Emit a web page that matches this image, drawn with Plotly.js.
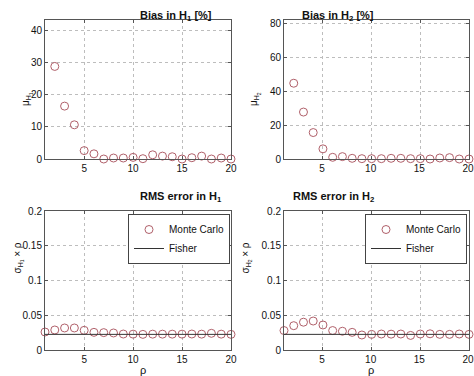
<!DOCTYPE html>
<html><head><meta charset="utf-8">
<script src="https://cdn.plot.ly/plotly-3.0.1.min.js"></script>
<style>html,body{margin:0;padding:0;background:#fff}#p{width:474px;height:376px}</style>
</head><body><div id="p"></div>
<script>
const rhoBias = [2,3,4,5,6,7,8,9,10,11,12,13,14,15,16,17,18,19,20];
const biasH1 = [28.7,16.4,10.6,2.6,1.6,0,0.3,0.3,0.5,0.1,1.3,0.9,0.7,0,0.4,0.9,0,0.3,0];
const biasH2 = [44.7,27.7,15.6,6.0,1.0,1.4,0.4,0.2,0.2,0.2,0.4,0.4,0.2,0.2,0,0.6,0.8,0,0];
const rhoRms = [1,2,3,4,5,6,7,8,9,10,11,12,13,14,15,16,17,18,19,20];
const rmsH1 = [0.0259,0.0288,0.0317,0.0317,0.0283,0.0254,0.025,0.0245,0.023,0.0228,0.0225,0.0228,0.0228,0.0228,0.0228,0.023,0.0228,0.024,0.0228,0.0225];
const rmsH2 = [0.028,0.035,0.040,0.0417,0.036,0.028,0.027,0.0254,0.0216,0.0225,0.023,0.0228,0.023,0.021,0.023,0.0233,0.0225,0.0225,0.023,0.0225];
const fisherH1 = [0.0225,0.0225,0.0225,0.0225,0.0225,0.0225,0.0225,0.0225,0.0225,0.0225,0.0225,0.0225,0.0225,0.0225,0.0225,0.0225,0.0225,0.0225,0.0225,0.0225];
const fisherH2 = [0.0225,0.0225,0.0225,0.0225,0.0225,0.0225,0.0225,0.0225,0.0225,0.0225,0.0225,0.0225,0.0225,0.0225,0.0225,0.0225,0.0225,0.0225,0.0225,0.0225];

const W = 474, H = 376;
const mcol = '#b0606a';
const mk = {symbol:'circle-open', size:8, color:mcol, line:{width:1, color:mcol}};
const traces = [
  {x:rhoBias, y:biasH1, mode:'markers', marker:mk, xaxis:'x', yaxis:'y', showlegend:false, cliponaxis:false},
  {x:rhoBias, y:biasH2, mode:'markers', marker:mk, xaxis:'x2', yaxis:'y2', showlegend:false, cliponaxis:false},
  {x:rhoRms, y:rmsH1, mode:'markers', marker:mk, xaxis:'x3', yaxis:'y3', name:'Monte Carlo', legend:'legend', cliponaxis:false},
  {x:rhoRms, y:fisherH1, mode:'lines', line:{color:'#333', width:1}, xaxis:'x3', yaxis:'y3', name:'Fisher', legend:'legend'},
  {x:rhoRms, y:rmsH2, mode:'markers', marker:mk, xaxis:'x4', yaxis:'y4', name:'Monte Carlo', legend:'legend2', cliponaxis:false},
  {x:rhoRms, y:fisherH2, mode:'lines', line:{color:'#333', width:1}, xaxis:'x4', yaxis:'y4', name:'Fisher', legend:'legend2'}
];
const font = {family:'"Liberation Sans", Arial, Helvetica, sans-serif', size:10, color:'#111'};
function ax(extra){
  return Object.assign({showline:true, mirror:'ticks', linecolor:'#555', linewidth:1,
    ticks:'inside', ticklen:3, tickcolor:'#555', zeroline:false, showgrid:true,
    gridcolor:'#bdbdbd', griddash:'dot', gridwidth:1, fixedrange:true, ticklabeloverflow:'allow',
    tickfont:{size:10, color:'#111'}}, extra);
}
const xL=[45/W, 231/W], xR=[284/W, 469/W];
const yT=[1-159/H, 1-20/H], yB=[1-350/H, 1-211/H];
const xt = {range:[1,20], tickvals:[5,10,15,20]};
const lg = {xanchor:'right', y:1-214/H, yanchor:'top', bgcolor:'#fff', bordercolor:'#444', borderwidth:1,
    font:{size:10, color:'#111'}, tracegroupgap:0, itemwidth:30, valign:'middle'};
const layout = {
  width:W, height:H, margin:{l:0,r:0,t:0,b:0}, paper_bgcolor:'#fff', plot_bgcolor:'#fff',
  font:font,
  xaxis: ax(Object.assign({domain:xL, anchor:'y'}, xt)),
  yaxis: ax({domain:yT, anchor:'x', range:[0,43.1], tickvals:[0,10,20,30,40]}),
  xaxis2: ax(Object.assign({domain:xR, anchor:'y2', ticklabelshift:-1}, xt)),
  yaxis2: ax({domain:yT, anchor:'x2', range:[0,82], tickvals:[0,20,40,60,80]}),
  xaxis3: ax(Object.assign({domain:xL, anchor:'y3'}, xt)),
  yaxis3: ax({domain:yB, anchor:'x3', range:[0,0.2], tickvals:[0,0.05,0.1,0.15,0.2], ticktext:['0','0.05','0.1','0.15','0.2']}),
  xaxis4: ax(Object.assign({domain:xR, anchor:'y4', ticklabelshift:-1}, xt)),
  yaxis4: ax({domain:yB, anchor:'x4', range:[0,0.2], tickvals:[0,0.05,0.1,0.15,0.2], ticktext:['0','0.05','0.1','0.15','0.2']}),
  legend: Object.assign({x:230/W}, lg),
  legend2: Object.assign({x:467/W}, lg),
  annotations: [
    {text:'<b>Bias in H<sub>1</sub> [%]</b>', x:138/W, y:1-7/H, xref:'paper', yref:'paper', showarrow:false, font:{size:11}},
    {text:'<b>Bias in H<sub>2</sub> [%]</b>', x:376/W, y:1-7/H, xref:'paper', yref:'paper', showarrow:false, font:{size:11}},
    {text:'<b>RMS error in H<sub>1</sub></b>', x:138/W, y:1-197/H, xref:'paper', yref:'paper', showarrow:false, font:{size:11}},
    {text:'<b>RMS error in H<sub>2</sub></b>', x:376/W, y:1-197/H, xref:'paper', yref:'paper', showarrow:false, font:{size:11}},
    {text:'μ<sub>H<sub>1</sub></sub>', x:18/W, y:1-90/H, xref:'paper', yref:'paper', showarrow:false, textangle:-90, font:{size:10}},
    {text:'μ<sub>H<sub>2</sub></sub>', x:255/W, y:1-90/H, xref:'paper', yref:'paper', showarrow:false, textangle:-90, font:{size:10}},
    {text:'σ<sub>H<sub>1</sub></sub> × ρ', x:9/W, y:1-276/H, xref:'paper', yref:'paper', showarrow:false, textangle:-90, font:{size:10}},
    {text:'σ<sub>H<sub>2</sub></sub> × ρ', x:246/W, y:1-276/H, xref:'paper', yref:'paper', showarrow:false, textangle:-90, font:{size:10}},
    {text:'ρ', x:138/W, y:0, yanchor:'bottom', yshift:-2, xref:'paper', yref:'paper', showarrow:false, font:{size:11}},
    {text:'ρ', x:376/W, y:0, yanchor:'bottom', yshift:-2, xref:'paper', yref:'paper', showarrow:false, font:{size:11}}
  ]
};
Plotly.newPlot('p', traces, layout, {displayModeBar:false, staticPlot:true});
</script>
</body></html>
